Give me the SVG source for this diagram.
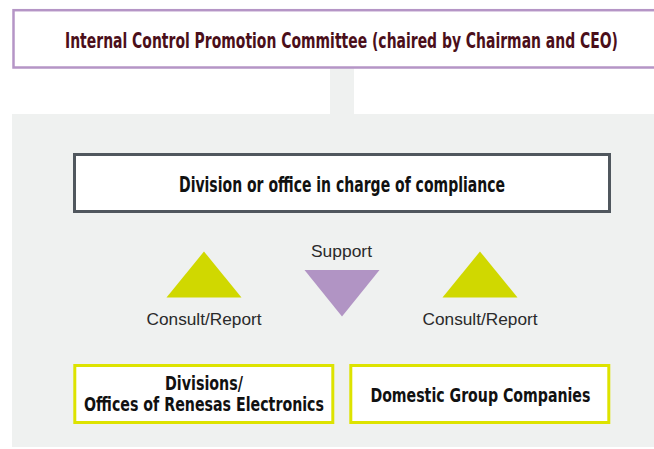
<svg xmlns="http://www.w3.org/2000/svg" width="654" height="449" viewBox="0 0 654 449">
<style>
.bold{font-family:"Liberation Sans Narrow","DejaVu Sans Condensed","Liberation Sans",sans-serif;font-weight:bold;font-stretch:condensed;text-anchor:middle}
.reg{font-family:"Liberation Sans","Noto Sans",sans-serif;font-size:17px;fill:#2a2a2a;text-anchor:middle}
.tri-up{fill:#d0d800}
.tri-down{fill:#b194c4}
.yel{fill:#fff;stroke:#dde300;stroke-width:3}
</style>
<rect width="654" height="449" fill="#fff"/>
<g id="panel">
<rect x="12" y="114" width="642" height="333" fill="#eff1f0"/>
</g>
<g id="connectors">
<rect x="330" y="68" width="24" height="46" fill="#eff1f0"/>
<polygon class="tri-up" points="204,251.5 166.5,297.5 241.5,297.5"/>
<polygon class="tri-up" points="480,251.5 442.5,297.5 517.5,297.5"/>
<polygon class="tri-down" points="304.5,270 379.5,270 342,316.5"/>
<text class="reg" x="341.5" y="256.5" textLength="61" lengthAdjust="spacingAndGlyphs">Support</text>
<text class="reg" x="204" y="325" textLength="115" lengthAdjust="spacingAndGlyphs">Consult/Report</text>
<text class="reg" x="480" y="325" textLength="115" lengthAdjust="spacingAndGlyphs">Consult/Report</text>
</g>
<g id="committee">
<rect x="13.5" y="10.2" width="660" height="57.3" fill="#fff" stroke="#b595c6" stroke-width="2.5"/>
<text class="bold" x="341.5" y="48" font-size="20.5" fill="#4b0f1a" textLength="553" lengthAdjust="spacingAndGlyphs">Internal Control Promotion Committee (chaired by Chairman and CEO)</text>
</g>
<g id="compliance">
<rect x="74.5" y="154.5" width="535" height="57" fill="#fff" stroke="#50575e" stroke-width="3"/>
<text class="bold" x="342" y="191.5" font-size="20.5" fill="#111" textLength="326" lengthAdjust="spacingAndGlyphs">Division or office in charge of compliance</text>
</g>
<g id="divisions">
<rect class="yel" x="74.8" y="365.5" width="258" height="57"/>
<text class="bold" x="204" y="390" font-size="19.5" fill="#111" textLength="78" lengthAdjust="spacingAndGlyphs">Divisions/</text>
<text class="bold" x="204" y="411" font-size="19.5" fill="#111" textLength="240" lengthAdjust="spacingAndGlyphs">Offices of Renesas Electronics</text>
</g>
<g id="group-companies">
<rect class="yel" x="350.8" y="365.5" width="258" height="57"/>
<text class="bold" x="480.4" y="401.5" font-size="19.5" fill="#111" textLength="220" lengthAdjust="spacingAndGlyphs">Domestic Group Companies</text>
</g>
</svg>
